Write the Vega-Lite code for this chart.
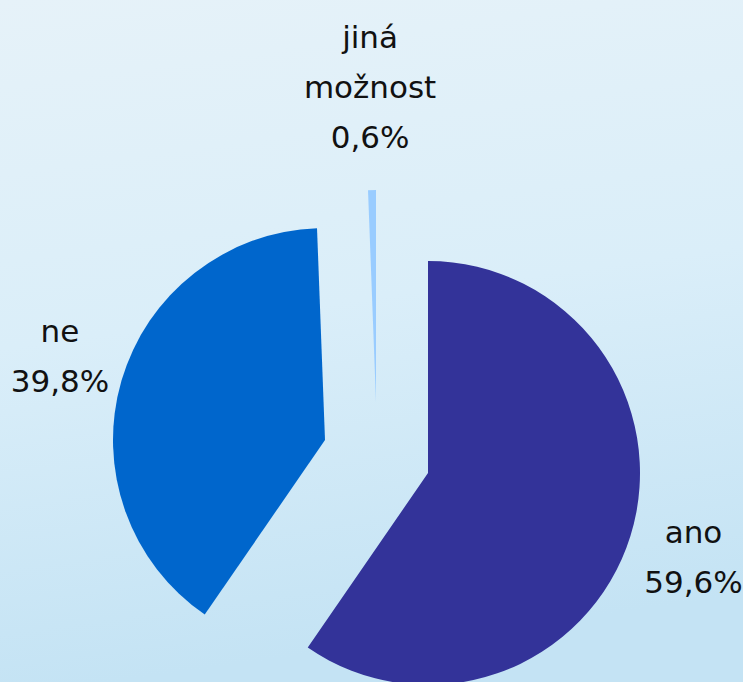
{
  "$schema": "https://vega.github.io/schema/vega-lite/v6.json",
  "autosize": "none",
  "width": 743,
  "height": 682,
  "padding": 0,
  "background": "#d8ecf8",
  "config": {"view": {"stroke": null}},
  "data": {
    "values": [
      {"cat": "ano", "value": 59.6, "label": "ano\n59,6%"},
      {"cat": "ne", "value": 39.8, "label": "ne\n39,8%"},
      {"cat": "jiná možnost", "value": 0.6, "label": "jiná\nmožnost\n0,6%"}
    ]
  },
  "layer": [
    {
      "mark": {
        "type": "rect",
        "color": {"gradient": "linear", "x1": 0, "y1": 0, "x2": 0.15, "y2": 1,
          "stops": [{"offset": 0, "color": "#e6f2f9"}, {"offset": 0.5, "color": "#daeef9"}, {"offset": 1, "color": "#c4e3f4"}]}
      },
      "encoding": {}
    },
    {
      "encoding": {
        "theta": {"field": "value", "type": "quantitative", "stack": true},
        "order": {"field": "value", "type": "quantitative", "sort": "descending"},
        "color": {
          "field": "cat", "type": "nominal", "legend": null,
          "scale": {"domain": ["ano", "ne", "jiná možnost"], "range": ["#333399", "#0066cc", "#99ccff"]}
        }
      },
      "layer": [
        {
          "mark": {"type": "arc", "radius": 212, "xOffset": 56.5, "yOffset": 132},
          "encoding": {"opacity": {"condition": {"test": "datum.cat === 'ano'", "value": 1}, "value": 0}}
        },
        {
          "mark": {"type": "arc", "radius": 212, "xOffset": -46.5, "yOffset": 99},
          "encoding": {"opacity": {"condition": {"test": "datum.cat === 'ne'", "value": 1}, "value": 0}}
        },
        {
          "mark": {"type": "arc", "radius": 212, "xOffset": 4.5, "yOffset": 61},
          "encoding": {"opacity": {"condition": {"test": "datum.cat === 'jiná možnost'", "value": 1}, "value": 0}}
        },
        {
          "mark": {"type": "text", "radius": 278, "xOffset": 56.5, "yOffset": 110, "font": "DejaVu Sans", "fontSize": 31, "lineBreak": "\n", "lineHeight": 50, "align": "center", "baseline": "middle"},
          "encoding": {
            "text": {"field": "label"},
            "color": {"value": "#111111"},
            "opacity": {"condition": {"test": "datum.cat === 'ano'", "value": 1}, "value": 0}
          }
        },
        {
          "mark": {"type": "text", "radius": 276, "xOffset": -46.5, "yOffset": 69, "font": "DejaVu Sans", "fontSize": 31, "lineBreak": "\n", "lineHeight": 50, "align": "center", "baseline": "middle"},
          "encoding": {
            "text": {"field": "label"},
            "color": {"value": "#111111"},
            "opacity": {"condition": {"test": "datum.cat === 'ne'", "value": 1}, "value": 0}
          }
        },
        {
          "mark": {"type": "text", "radius": 315, "xOffset": 4.5, "yOffset": 13, "font": "DejaVu Sans", "fontSize": 31, "lineBreak": "\n", "lineHeight": 50, "align": "center", "baseline": "middle"},
          "encoding": {
            "text": {"field": "label"},
            "color": {"value": "#111111"},
            "opacity": {"condition": {"test": "datum.cat === 'jiná možnost'", "value": 1}, "value": 0}
          }
        }
      ]
    }
  ]
}
